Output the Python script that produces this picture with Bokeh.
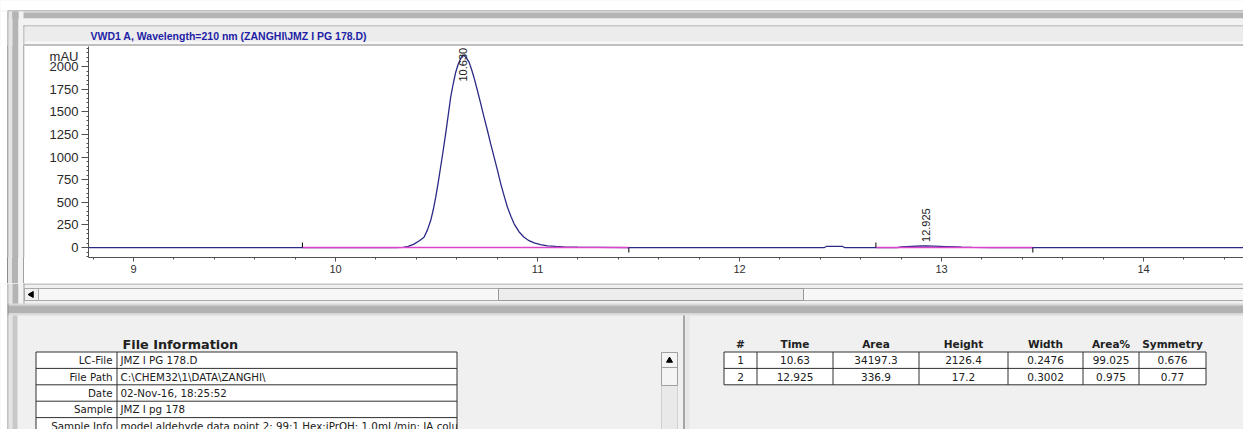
import numpy as np
from math import pi
from bokeh.plotting import figure
from bokeh.models import Range1d, FixedTicker, LinearAxis
from bokeh.layouts import column, row
from bokeh.embed import file_html
from bokeh.resources import INLINE
from bokeh.core.properties import value

# ---------------- data ----------------
signal_time = [8.70, 9.836, 10.300, 10.335, 10.360, 10.388, 10.415, 10.438, 10.455, 10.471, 10.484,
               10.496, 10.508, 10.520, 10.533, 10.545, 10.558, 10.570, 10.583, 10.595, 10.607,
               10.619, 10.630, 10.640, 10.650, 10.661, 10.673, 10.685, 10.702, 10.719, 10.735,
               10.752, 10.768, 10.785, 10.802, 10.818, 10.835, 10.851, 10.868, 10.884, 10.908,
               10.933, 10.958, 10.983, 11.015, 11.049, 11.090, 11.130, 11.200, 11.300, 11.450,
               12.420, 12.430, 12.510, 12.520, 12.780, 12.800, 12.850, 12.900, 12.925, 12.960,
               13.020, 13.080, 13.100, 13.150, 13.250, 14.600]
signal_mau = [0, 0, 0, 2, 12, 38, 75, 114, 195, 298, 420,
              556, 715, 887, 1075, 1256, 1465, 1661, 1815, 1937, 2025,
              2085, 2126, 2115, 2088, 2048, 1970, 1882, 1738, 1588, 1440,
              1293, 1145, 998, 850, 704, 568, 445, 345, 262, 175,
              114, 76, 52, 32, 19, 12, 8, 4, 2, 0,
              0, 12, 12, 0, 0, 6, 13, 17, 17.2, 16,
              11, 6, 3, 1, 0, 0]

baseline_start_time = [9.836, 12.675]
baseline_end_time = [11.452, 13.452]
baseline_start_mau = [0, 0]
baseline_end_mau = [0, 0]

peak_times = [10.630, 12.925]
peak_heights = [2126.4, 17.2]
peak_labels = ["10.630", "12.925"]

x_ticks = [9, 10, 11, 12, 13, 14]
y_ticks = [0, 250, 500, 750, 1000, 1250, 1500, 1750, 2000]
y_unit = "mAU"
chart_title = "VWD1 A, Wavelength=210 nm (ZANGHI\\JMZ I PG 178.D)"

file_info_title = "File Information"
file_info_keys = ["LC-File", "File Path", "Date", "Sample", "Sample Info"]
file_info_values = ["JMZ I PG 178.D", "C:\\CHEM32\\1\\DATA\\ZANGHI\\", "02-Nov-16, 18:25:52",
                    "JMZ I pg 178", "model aldehyde data point 2: 99:1 Hex:iPrOH: 1.0mL/min: IA column"]

table_headers = ["#", "Time", "Area", "Height", "Width", "Area%", "Symmetry"]
col_number = ["1", "2"]
col_time = ["10.63", "12.925"]
col_area = ["34197.3", "336.9"]
col_height = ["2126.4", "17.2"]
col_width = ["0.2476", "0.3002"]
col_area_pct = ["99.025", "0.975"]
col_symmetry = ["0.676", "0.77"]

# ---------------- styles ----------------
SIG = "#2a2a86"
BASE = "#dd44cc"
AXIS = "#505050"
PLOT_FONT = value("Liberation Sans")
TAB_FONT = value("DejaVu Sans")
CHROME = "#f0f0f0"
W, H = 1243, 429
LEFT_CSS = ("linear-gradient(to right, #ffffff 0px, #ffffff 7px, #8c8c8c 7px, #8c8c8c 8px, "
            "#e4e4e4 8px, #e4e4e4 12px, #b4b4b4 12px, #b4b4b4 18px, #f2f2f2 18px, #f2f2f2 23px, "
            "#a0a0a0 23px, #a0a0a0 24px, #ffffff 24px, #ffffff 25px)")


def pix_fig(x0, x1, y0, y1, bg=CHROME, **kw):
    p = figure(width=x1 - x0, height=y1 - y0,
               x_range=Range1d(x0, x1), y_range=Range1d(y1, y0),
               x_axis_type=None, y_axis_type=None,
               output_backend="svg", toolbar_location=None,
               min_border=0, min_border_left=0, min_border_right=0,
               min_border_top=0, min_border_bottom=0, **kw)
    p.outline_line_color = None
    p.background_fill_color = bg
    p.border_fill_color = bg
    return p


def box(p, l, r, t, b, fill, line=None, lw=1):
    p.quad(left=[l], right=[r], top=[t], bottom=[b], fill_color=fill,
           line_color=line, line_width=lw)


def hl(p, x0, x1, y, color, w=1):
    p.segment(x0=[x0], y0=[y], x1=[x1], y1=[y], line_color=color, line_width=w)


def vl(p, x, y0, y1, color, w=1):
    p.segment(x0=[x], y0=[y0], x1=[x], y1=[y1], line_color=color, line_width=w)


def left_chrome(p, y0, y1, inner=True):
    box(p, 0, 7, y0, y1, "white")
    vl(p, 7.5, y0, y1, "#8c8c8c")
    box(p, 8, 12, y0, y1, "#e4e4e4")
    box(p, 12, 18, y0, y1, "#b4b4b4")
    box(p, 18, 23, y0, y1, "#f2f2f2")
    if inner:
        vl(p, 23.5, y0, y1, "#a0a0a0")


# ---------------- top chrome + title bar ----------------
T = pix_fig(0, W, 0, 46)
box(T, 0, W, 0, 10, "white")
hl(T, 7, W, 10.5, "#8c8c8c")
box(T, 8, W, 11, 12, "#e4e4e4")
box(T, 8, W, 12, 18, "#b4b4b4")
box(T, 8, W, 18, 25, "#f2f2f2")
left_chrome(T, 11, 46, inner=False)
box(T, 12, 18, 12, 18, "#b4b4b4")
hl(T, 23, W, 25.5, "#a0a0a0")
vl(T, 23.5, 25, 46, "#a0a0a0")
box(T, 24, W, 26, 41, "#ececec")
box(T, 24, W, 41, 44, "#f7f7f7")
hl(T, 24, W, 44.5, "#8c8c8c")
T.text(x=[90], y=[35.5], text=[chart_title], text_font=PLOT_FONT, text_font_size="10.5px",
       text_font_style="bold", text_color="#1e1ea6", text_align="left", text_baseline="middle")

# ---------------- left chrome strip beside the plot ----------------
L = pix_fig(0, 25, 46, 283, styles={"background": LEFT_CSS})
L.border_fill_color = None
L.background_fill_color = None
left_chrome(L, 46, 283)
box(L, 24, 25, 46, 283, "white")

# ---------------- chromatogram ----------------
x_start = 8.777
x_end = x_start + 1155 / 202.0
y_lo, y_hi = -110, 2221
C = figure(width=W - 25, height=237,
           x_range=Range1d(x_start, x_end), y_range=Range1d(y_lo, y_hi),
           output_backend="svg", toolbar_location=None,
           min_border_left=63, min_border_right=0, min_border_top=0, min_border_bottom=26)
C.outline_line_color = None
C.grid.visible = False
C.background_fill_color = "white"
C.border_fill_color = "white"

C.xaxis.ticker = FixedTicker(ticks=x_ticks, minor_ticks=list(np.round(np.arange(8.8, 14.5, 0.2), 2)))
xa = C.xaxis[0]
xa.axis_line_color = AXIS
xa.major_tick_line_color = AXIS
xa.minor_tick_line_color = AXIS
xa.major_tick_in = 0
xa.minor_tick_in = 0
xa.major_tick_out = 4
xa.minor_tick_out = 2
xa.major_label_standoff = 3
xa.major_label_text_font = "Liberation Sans"
xa.major_label_text_font_size = "11px"
xa.major_label_text_color = "#303030"

# inner y axis: line + tick marks only
ya = C.yaxis[0]
ya.ticker = FixedTicker(ticks=y_ticks, minor_ticks=list(range(-100, 2201, 50)))
ya.major_label_overrides = {t: "" for t in y_ticks}
ya.major_label_standoff = 0
ya.axis_line_color = AXIS
ya.major_tick_line_color = AXIS
ya.minor_tick_line_color = AXIS
ya.major_tick_in = 0
ya.minor_tick_in = 0
ya.major_tick_out = 7
ya.minor_tick_out = 2

# outer y axis: tick labels and the unit, no marks
unit_pos = 2110
ylab = LinearAxis(ticker=FixedTicker(ticks=y_ticks + [unit_pos], minor_ticks=[]),
                  major_label_overrides={unit_pos: y_unit},
                  axis_line_color=None, major_tick_line_color=None, minor_tick_line_color=None,
                  major_tick_in=0, major_tick_out=0, minor_tick_in=0, minor_tick_out=0,
                  major_label_standoff=3, major_label_text_font="Liberation Sans",
                  major_label_text_font_size="13px", major_label_text_color="#282828")
C.add_layout(ylab, "left")

C.line(signal_time, signal_mau, line_color=SIG, line_width=1.3)
C.segment(x0=baseline_start_time, y0=baseline_start_mau, x1=baseline_end_time, y1=baseline_end_mau,
          line_color=BASE, line_width=1.5)

ppu = 211 / (y_hi - y_lo)          # pixels per mAU in the frame
tick_len = 5 / ppu
C.segment(x0=baseline_start_time, y0=baseline_start_mau, x1=baseline_start_time,
          y1=[v + tick_len for v in baseline_start_mau], line_color="black", line_width=1)
C.segment(x0=baseline_end_time, y0=baseline_end_mau, x1=baseline_end_time,
          y1=[v - tick_len for v in baseline_end_mau], line_color="black", line_width=1)

label_len = 33 / ppu
label_y = [min(h + 4 / ppu, y_hi - 2 / ppu - label_len) for h in peak_heights]
C.text(x=peak_times, y=label_y, text=peak_labels, angle=pi / 2, text_font=PLOT_FONT,
       text_font_size="11px", text_color="#202020", text_align="left", text_baseline="middle")

# ---------------- bottom: scrollbar, divider, info panes ----------------
B = pix_fig(0, W, 283, H)
left_chrome(B, 283, 304)
hl(B, 23, W, 283.5, "#a0a0a0")
box(B, 24, W, 288, 300, "#f7f7f7", "#a8a8a8")
box(B, 24, 38, 288, 300, "#f0f0f0", "#a8a8a8")
B.scatter(x=[31], y=[294], marker="triangle", angle=pi / 2, size=6, color="black")
box(B, 498, 803, 288, 300, "#ededed", "#9a9a9a")
box(B, 0, 7, 303, H, "white")
box(B, 7, W, 303, 305, "#d8d8d8")
box(B, 7, W, 305, 313, "#b2b2b2")
box(B, 7, W, 313, 315, "#dcdcdc")
vl(B, 7.5, 303, H, "#8c8c8c")
box(B, 8, 12, 315, H, "#e4e4e4")
box(B, 12, 17, 315, H, "#c8c8c8")
vl(B, 683.5, 315, H, "#8c8c8c", 1.5)
box(B, 685, 689, 315, H, "#e6e6e6")

# left info table
rows_top = 351.5
row_h = 16.4
n_rows = len(file_info_keys)
row_y = [rows_top + i * row_h for i in range(n_rows + 1)]
B.quad(left=[35.5] * n_rows, right=[456.5] * n_rows, top=row_y[:-1], bottom=row_y[1:],
       fill_color="white", line_color=None)
B.text(x=[122], y=[344], text=[file_info_title], text_font=TAB_FONT, text_font_size="12.8px",
       text_font_style="bold", text_color="#202020", text_align="left", text_baseline="middle")
B.text(x=[112] * n_rows, y=[y + row_h / 2 for y in row_y[:-1]], text=file_info_keys,
       text_font=TAB_FONT, text_font_size="10.3px", text_color="#202020",
       text_align="right", text_baseline="middle")
B.text(x=[120] * n_rows, y=[y + row_h / 2 for y in row_y[:-1]], text=file_info_values,
       text_font=TAB_FONT, text_font_size="10.3px", text_color="#202020",
       text_align="left", text_baseline="middle")
box(B, 457, 660, 340, H, CHROME)
B.segment(x0=[35.5] * (n_rows + 1), x1=[456.5] * (n_rows + 1), y0=row_y, y1=row_y,
          line_color="#303030", line_width=1)
for xv in (35.5, 116.5, 456.5):
    vl(B, xv, rows_top, H, "#303030")

# left pane vertical scrollbar
box(B, 661, 677, 352, H, "#e9e9e9", "#d0d0d0")
box(B, 661, 677, 352, 367, "#f4f4f4", "#a0a0a0")
B.scatter(x=[669], y=[360], marker="triangle", size=6, color="black")
box(B, 661, 677, 367, 385, "#f4f4f4", "#a0a0a0")

# right peak table
col_edges = [723.5, 756.5, 832.5, 918.5, 1007.5, 1082.5, 1138.5, 1205.5]
col_centers = [(a + b) / 2 for a, b in zip(col_edges[:-1], col_edges[1:])]
table_cols = [col_number, col_time, col_area, col_height, col_width, col_area_pct, col_symmetry]
n_pk = len(col_number)
pk_y = [rows_top + i * row_h for i in range(n_pk + 1)]
B.quad(left=[col_edges[0]] * n_pk, right=[col_edges[-1]] * n_pk, top=pk_y[:-1], bottom=pk_y[1:],
       fill_color="white", line_color=None)
B.text(x=col_centers, y=[343.5] * len(table_headers), text=table_headers, text_font=TAB_FONT,
       text_font_size="10.5px", text_font_style="bold", text_color="#202020",
       text_align="center", text_baseline="middle")
for ci, col in enumerate(table_cols):
    B.text(x=[col_centers[ci]] * n_pk, y=[y + row_h / 2 for y in pk_y[:-1]], text=col,
           text_font=TAB_FONT, text_font_size="10.5px", text_color="#202020",
           text_align="center", text_baseline="middle")
B.segment(x0=[col_edges[0]] * (n_pk + 1), x1=[col_edges[-1]] * (n_pk + 1), y0=pk_y, y1=pk_y,
          line_color="#303030", line_width=1)
B.segment(x0=col_edges, x1=col_edges, y0=[pk_y[0]] * len(col_edges), y1=[pk_y[-1]] * len(col_edges),
          line_color="#303030", line_width=1)

layout = column(T, row(L, C, spacing=0), B, spacing=0)
open("out.html", "w").write(file_html(layout, INLINE))
